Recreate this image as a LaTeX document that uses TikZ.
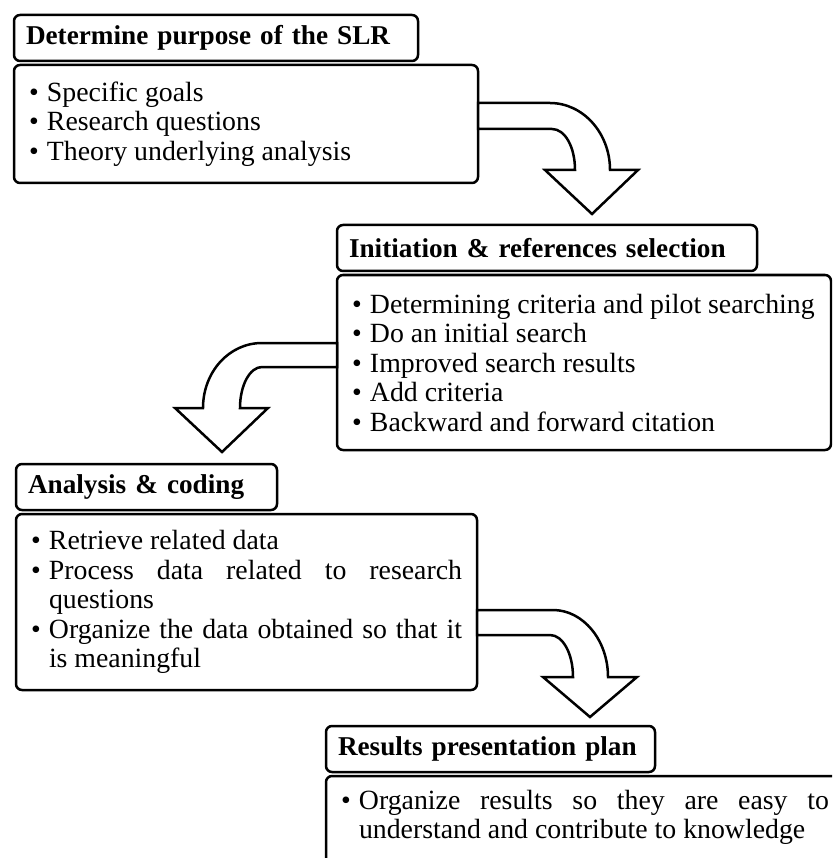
\documentclass[tikz,border=0pt]{standalone}
\usepackage{fontspec}
\setmainfont{Liberation Serif}
\usetikzlibrary{positioning}

\newcommand{\bodyfont}{\fontsize{27.8}{29.5}\selectfont}
\newcommand{\headfont}{\fontsize{27.2}{29.5}\selectfont\bfseries}
\newcommand{\bitem}[1]{\noindent\hangindent=18pt\hangafter=1\makebox[18pt][l]{\textbullet}#1\par}

\tikzset{
    stagehead/.style={draw, rounded corners=6pt, line width=2.5pt, outer sep=0pt, inner xsep=12pt, inner ysep=0pt, minimum height=46pt, anchor=north west, align=left, font=\headfont},
    stagebody/.style={draw, rounded corners=6pt, line width=2.5pt, outer sep=0pt, inner xsep=15pt, inner ysep=0pt, align=justify, font=\bodyfont},
    bentarrow/.style={draw, fill=white, line width=2.5pt, line join=miter}
}

\begin{document}
\begin{tikzpicture}[x=1pt, y=-1pt]
    \useasboundingbox (0,0) rectangle (832,858);
    \clip (0,0) rectangle (832,858);

    % Draw the stage headers with their bullet boxes
    \node[stagehead, text width=380pt] (h1) at (14,15) {Determine purpose of the SLR};
    \node[stagebody, text width=434pt, minimum height=118pt, below=4pt of h1.south west, anchor=north west] (b1) {\bitem{Specific goals}\bitem{Research questions}\bitem{Theory underlying analysis}};

    \node[stagehead, text width=396pt] (h2) at (337,225) {Initiation \& references selection};
    \node[stagebody, text width=464pt, minimum height=175pt, below=4pt of h2.south west, anchor=north west] (b2) {\bitem{Determining criteria and pilot searching}\bitem{Do an initial search}\bitem{Improved search results}\bitem{Add criteria}\bitem{Backward and forward citation}};

    \node[stagehead, text width=237pt] (h3) at (16,464) {Analysis \& coding};
    \node[stagebody, text width=431pt, minimum height=176pt, below=4pt of h3.south west, anchor=north west] (b3) {\bitem{Retrieve related data}\bitem{Process data related to research\linebreak questions}\bitem{Organize the data obtained so that it\linebreak is meaningful}};

    \node[stagehead, text width=305pt] (h4) at (326,726) {Results presentation plan};
    \node[stagebody, text width=488pt, inner ysep=14pt, below=4pt of h4.south west, anchor=north west] (b4) {\bitem{Organize results so they are easy to\linebreak understand and contribute to knowledge\rule[-60pt]{0pt}{60pt}}};

    % Draw the bent arrows between the stages
    \draw[bentarrow] (b1.east |- 0,103) -- (550,103) .. controls (583,103) and (610,133) .. (610,170) -- (638,170) -- (592,214) -- (545,170) -- (575,170) .. controls (575,147) and (565,129) .. (552,129) -- (b1.east |- 0,129) -- cycle; % b1 to h2
    \draw[bentarrow] (b2.west |- 0,343) -- (262,343) .. controls (229,343) and (203,372) .. (203,408) -- (175,408) -- (222,452) -- (268,408) -- (240,408) .. controls (240,385) and (250,367) .. (262,367) -- (b2.west |- 0,367) -- cycle; % b2 to h3
    \draw[bentarrow] (b3.east |- 0,610) -- (553,610) .. controls (583,610) and (608,640) .. (608,677) -- (637,677) -- (590,717) -- (543,677) -- (573,677) .. controls (573,654) and (563,635) .. (550,635) -- (b3.east |- 0,635) -- cycle; % b3 to h4
\end{tikzpicture}
\end{document}
